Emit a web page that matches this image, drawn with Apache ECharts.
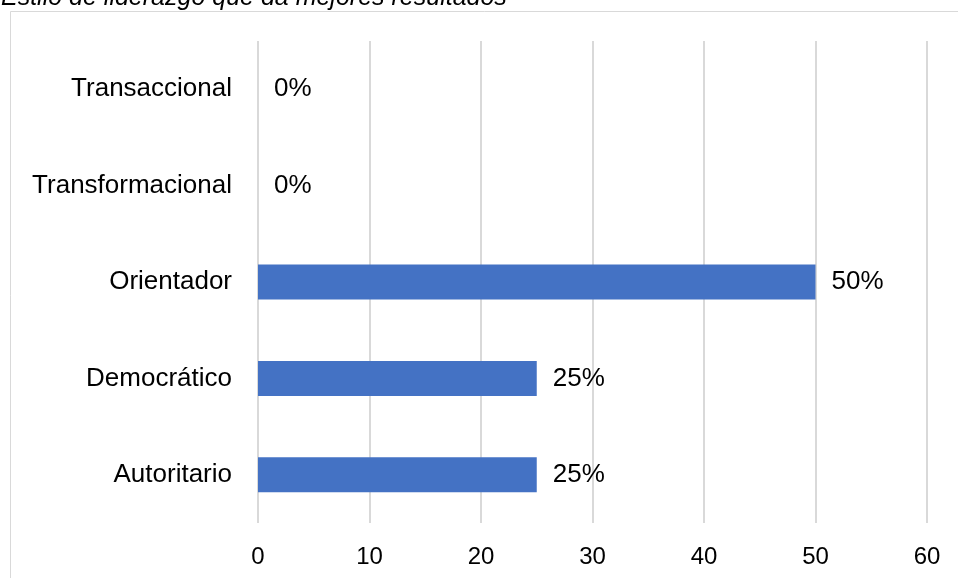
<!DOCTYPE html>
<html>
<head>
<meta charset="utf-8">
<script src="https://cdn.jsdelivr.net/npm/echarts@6/dist/echarts.min.js"></script>
<style>
html,body{margin:0;padding:0;background:#fff;}
#chart{width:958px;height:578px;}
</style>
</head>
<body>
<div id="chart"></div>
<script>
const titleText = 'Estilo de liderazgo que da mejores resultados';
const categories = ['Autoritario', 'Democrático', 'Orientador', 'Transformacional', 'Transaccional'];
const values = [25, 25, 50, 0, 0];
const xTicks = [0, 10, 20, 30, 40, 50, 60];

const chart = echarts.init(document.getElementById('chart'), null, {renderer: 'canvas'});
const font = 'Liberation Sans, Arial, sans-serif';
chart.setOption({
  animation: false,
  backgroundColor: '#fff',
  graphic: [
    {
      type: 'rect', silent: true, z: 0,
      shape: {x: 10.5, y: 11.5, width: 1000, height: 1000},
      style: {fill: 'none', stroke: '#d9d9d9', lineWidth: 1}
    },
    {
      type: 'text', silent: true, z: 10,
      style: {
        text: titleText, x: 1, y: 11,
        font: 'italic 25px Liberation Sans, Arial, sans-serif',
        fill: '#000', textVerticalAlign: 'bottom', lineHeight: 25
      }
    }
  ],
  grid: {left: 258, right: 31, top: 41, bottom: 55, containLabel: false},
  xAxis: {
    type: 'value',
    min: xTicks[0], max: xTicks[xTicks.length - 1], interval: 10,
    axisLine: {show: false},
    axisTick: {show: false},
    splitLine: {show: true, lineStyle: {color: '#d9d9d9', width: 2}},
    axisLabel: {color: '#000', fontSize: 24, fontFamily: font, margin: 22}
  },
  yAxis: {
    type: 'category',
    data: categories,
    axisLine: {show: false},
    axisTick: {show: false},
    splitLine: {show: false},
    axisLabel: {color: '#000', fontSize: 26, fontFamily: font, margin: 26}
  },
  series: [{
    type: 'bar',
    data: values,
    barWidth: 35,
    itemStyle: {color: '#4472C4'},
    label: {
      show: true, position: 'right', distance: 16,
      formatter: '{c}%', color: '#000', fontSize: 26, fontFamily: font
    }
  }]
});
</script>
</body>
</html>
